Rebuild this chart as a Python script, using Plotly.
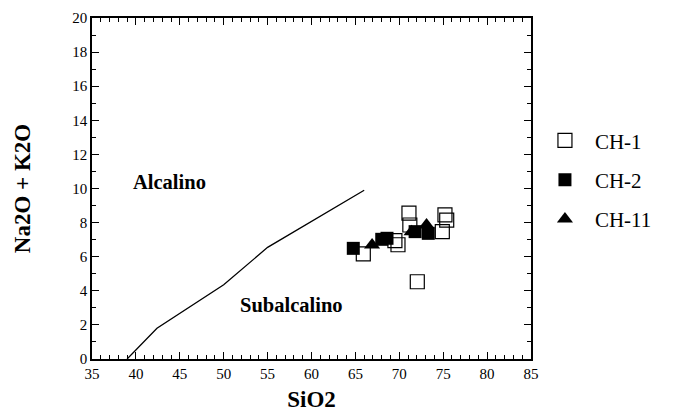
import plotly.graph_objects as go

# Data
ch1_x = [65.9, 69.5, 69.85, 71.1, 71.2, 75.2, 75.4, 74.9, 72.05]
ch1_y = [6.16, 6.94, 6.7, 8.55, 7.86, 8.45, 8.15, 7.47, 4.53]
ch2_x = [64.76, 68.0, 68.6, 71.8, 73.3]
ch2_y = [6.49, 7.02, 7.08, 7.47, 7.37]
ch11_x = [66.9, 71.4, 73.1]
ch11_y = [6.69, 7.47, 7.86]
line_x = [39.0, 42.4, 50.0, 55.0, 66.0]
line_y = [0.0, 1.8, 4.35, 6.55, 9.9]
region_labels = ["Alcalino", "Subalcalino"]
region_x = [43.85, 57.7]
region_y = [10.41, 3.15]

FONT = "Liberation Serif"

fig = go.Figure()
fig.add_trace(go.Scatter(x=line_x, y=line_y, mode="lines",
                         line=dict(color="black", width=1.3), showlegend=False,
                         hoverinfo="skip"))
fig.add_trace(go.Scatter(x=ch1_x, y=ch1_y, mode="markers", name="CH-1", legendgroup="a",
                         marker=dict(symbol="square-open", size=14, color="black",
                                     line=dict(width=1.2))))
fig.add_trace(go.Scatter(x=ch2_x, y=ch2_y, mode="markers", name="CH-2", legendgroup="b",
                         marker=dict(symbol="square", size=13, color="black")))
fig.add_trace(go.Scatter(x=ch11_x, y=ch11_y, mode="markers", name="CH-11", legendgroup="c",
                         marker=dict(symbol="triangle-up", size=14, color="black")))

for lab, lx, ly in zip(region_labels, region_x, region_y):
    fig.add_annotation(x=lx, y=ly, text="<b>" + lab + "</b>", showarrow=False,
                       font=dict(family=FONT, size=20.5, color="black"))

axis_common = dict(showline=True, linecolor="black", linewidth=1.6, mirror="ticks",
                   ticks="inside", ticklen=7, tickwidth=1.2, tickcolor="black",
                   showgrid=False, zeroline=False, automargin=False,
                   tickfont=dict(family=FONT, size=15, color="black"))

fig.update_xaxes(range=[35, 85], dtick=5, tick0=35,
                 minor=dict(ticks="inside", dtick=1, ticklen=4, tickcolor="black", tickwidth=1),
                 title=dict(text="<b>SiO2</b>", font=dict(family=FONT, size=23, color="black"),
                            standoff=10),
                 **axis_common)
fig.update_yaxes(range=[0, 20], dtick=2, tick0=0,
                 minor=dict(ticks="inside", dtick=1, ticklen=4, tickcolor="black", tickwidth=1),
                 title=dict(text="<b>Na2O + K2O</b>", font=dict(family=FONT, size=23, color="black"),
                            standoff=35),
                 **axis_common)

fig.update_layout(width=691, height=416,
                  margin=dict(l=84, r=168, t=10, b=65, autoexpand=False),
                  paper_bgcolor="white", plot_bgcolor="white",
                  font=dict(family=FONT, color="black"),
                  legend=dict(x=1.009, y=0.70, xanchor="left", yanchor="top",
                              font=dict(family=FONT, size=21, color="black"),
                              tracegroupgap=9, itemwidth=50, bgcolor="rgba(0,0,0,0)"),
                  showlegend=True)

fig.write_html("out.html")
